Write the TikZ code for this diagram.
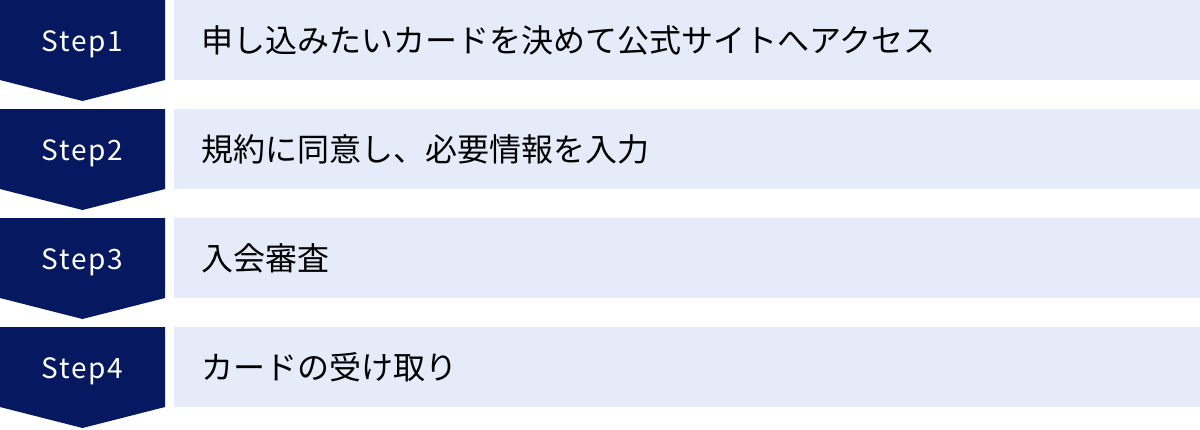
\documentclass[tikz,border=0pt]{standalone}
\usepackage{fontspec}
\setmainfont{Noto Sans}
\newfontfamily\jpfont{Noto Sans CJK JP}
\newfontfamily\stepfont[LetterSpace=6]{Noto Sans CJK JP}
\definecolor{stepnavy}{RGB}{5,24,96}
\definecolor{rowbg}{RGB}{229,235,248}
\newcommand{\steptaille}{\stepfont\fontsize{28}{30}\selectfont}
\newcommand{\jptaille}{\jpfont\fontsize{32}{34}\selectfont}

\begin{document}
\begin{tikzpicture}[x=1pt,y=1pt]
        \useasboundingbox (0,0) rectangle (1200,-429);
        % Step1
        \fill[stepnavy] (0,0) -- (165,0) -- (165,-80) -- (82.5,-101) -- (0,-80) -- cycle;
        \fill[rowbg] (174,0) rectangle (1200,-80);
        \node[anchor=base,text=white,font=\steptaille] (step1) at (82.5,-51.5) {Step1};
        \node[anchor=base west,font=\jptaille] (task1) at (198,-52) {申し込みたいカードを決めて公式サイトへアクセス};
        % Step2
        \fill[stepnavy] (0,-109) -- (165,-109) -- (165,-189) -- (82.5,-210) -- (0,-189) -- cycle;
        \fill[rowbg] (174,-109) rectangle (1200,-189);
        \node[anchor=base,text=white,font=\steptaille] (step2) at (82.5,-160.5) {Step2};
        \node[anchor=base west,font=\jptaille] (task2) at (198,-161) {規約に同意し、必要情報を入力};
        % Step3
        \fill[stepnavy] (0,-218) -- (165,-218) -- (165,-298) -- (82.5,-319) -- (0,-298) -- cycle;
        \fill[rowbg] (174,-218) rectangle (1200,-298);
        \node[anchor=base,text=white,font=\steptaille] (step3) at (82.5,-269.5) {Step3};
        \node[anchor=base west,font=\jptaille] (task3) at (198,-270) {入会審査};
        % Step4
        \fill[stepnavy] (0,-327) -- (165,-327) -- (165,-407) -- (82.5,-428) -- (0,-407) -- cycle;
        \fill[rowbg] (174,-327) rectangle (1200,-407);
        \node[anchor=base,text=white,font=\steptaille] (step4) at (82.5,-378.5) {Step4};
        \node[anchor=base west,font=\jptaille] (task4) at (198,-379) {カードの受け取り};
\end{tikzpicture}
\end{document}
